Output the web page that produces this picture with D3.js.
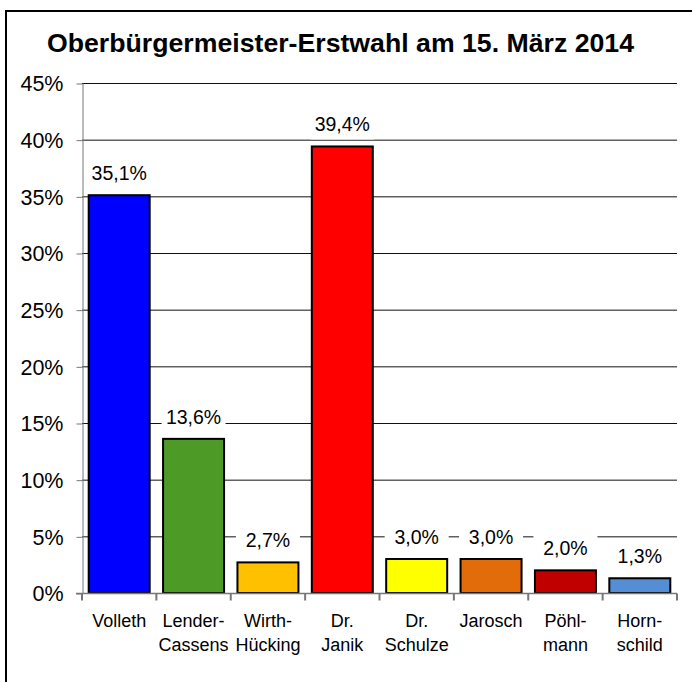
<!DOCTYPE html>
<html><head><meta charset="utf-8">
<script src="https://cdn.jsdelivr.net/npm/d3@7"></script>
<style>
html,body{margin:0;padding:0;background:#fff;}
svg{display:block;font-family:"Liberation Sans",Arial,sans-serif;}
</style></head>
<body>
<svg id="chart" width="692" height="682"></svg>
<script>
const title = "Oberbürgermeister-Erstwahl am 15. März 2014";
const categories = ["Volleth", "Lender-\nCassens", "Wirth-\nHücking", "Dr.\nJanik", "Dr.\nSchulze", "Jarosch", "Pöhl-\nmann", "Horn-\nschild"];
const values = [35.1, 13.6, 2.7, 39.4, 3.0, 3.0, 2.0, 1.3];
const colors = ["#0000ff", "#4e9a26", "#ffc000", "#ff0000", "#ffff00", "#e36c0a", "#c00000", "#558ed5"];
const yTicks = [0, 5, 10, 15, 20, 25, 30, 35, 40, 45];

const svg = d3.select("#chart");
const pLeft = 82, pRight = 677, pTop = 83, pBottom = 593;

svg.append("rect").attr("x", 6).attr("y", 11).attr("width", 700).attr("height", 700)
  .attr("fill", "#fff").attr("stroke", "#000").attr("stroke-width", 2);

svg.append("text").attr("x", 340.5).attr("y", 52).attr("text-anchor", "middle")
  .attr("font-size", 25).attr("font-weight", "bold")
  .attr("textLength", 587).attr("lengthAdjust", "spacingAndGlyphs").text(title);

const x = d3.scaleBand().domain(d3.range(categories.length)).range([pLeft, pRight])
  .paddingInner(0.18).paddingOuter(0.09);
const y = d3.scaleLinear().domain([0, 45]).range([pBottom, pTop]);

// gridlines
svg.append("g").selectAll("line").data(yTicks.filter(d => d > 0)).join("line")
  .attr("x1", pLeft).attr("x2", pRight).attr("y1", d => y(d) + 0.5).attr("y2", d => y(d) + 0.5)
  .attr("stroke", "#111").attr("stroke-width", 1);

// y axis
const yAxis = svg.append("g").attr("transform", `translate(${pLeft + 0.5},0)`)
  .call(d3.axisLeft(y).tickValues(yTicks).tickFormat(d => d + "%").tickSize(6).tickSizeOuter(0).tickPadding(13));
yAxis.select(".domain").attr("stroke", "#777");
yAxis.selectAll(".tick line").attr("stroke", "#777").attr("transform", "translate(0,0.5)");
yAxis.selectAll(".tick text").attr("font-size", 21.5).attr("font-family", "Liberation Sans, Arial, sans-serif").attr("fill", "#000").attr("dy", "0.36em");

// bars
svg.append("g").selectAll("rect").data(values).join("rect")
  .attr("x", (d, i) => x(i)).attr("width", x.bandwidth())
  .attr("y", d => y(d)).attr("height", d => y(0) - y(d))
  .attr("fill", (d, i) => colors[i]).attr("stroke", "#000").attr("stroke-width", 2);

// x axis
const xa = svg.append("g").attr("transform", `translate(0,${pBottom + 0.5})`);
xa.append("line").attr("x1", pLeft - 6).attr("x2", pRight).attr("stroke", "#777").attr("stroke-width", 1.5);
xa.selectAll("line.t").data(d3.range(categories.length + 1)).join("line").attr("class", "t")
  .attr("x1", i => pLeft + i * x.step())
  .attr("x2", i => pLeft + i * x.step())
  .attr("y1", 0).attr("y2", 7).attr("stroke", "#777").attr("stroke-width", 2);

// category labels
const cl = svg.append("g").selectAll("text").data(categories).join("text")
  .attr("text-anchor", "middle").attr("font-size", 18)
  .attr("transform", (d, i) => `translate(${x(i) + x.bandwidth() / 2},627)`);
cl.selectAll("tspan").data(d => d.split("\n")).join("tspan")
  .attr("x", 0).attr("y", (d, j) => j * 24).text(d => d);

// value labels with white background
const vl = svg.append("g").selectAll("g").data(values).join("g")
  .attr("transform", (d, i) => `translate(${x(i) + x.bandwidth() / 2},${y(d) - 15})`);
vl.append("rect").attr("x", -32).attr("y", -22).attr("width", 64).attr("height", 30).attr("fill", "#fff");
vl.append("text").attr("text-anchor", "middle").attr("font-size", 19.5)
  .text(d => d3.format(".1f")(d).replace(".", ",") + "%");
</script>
</body></html>
